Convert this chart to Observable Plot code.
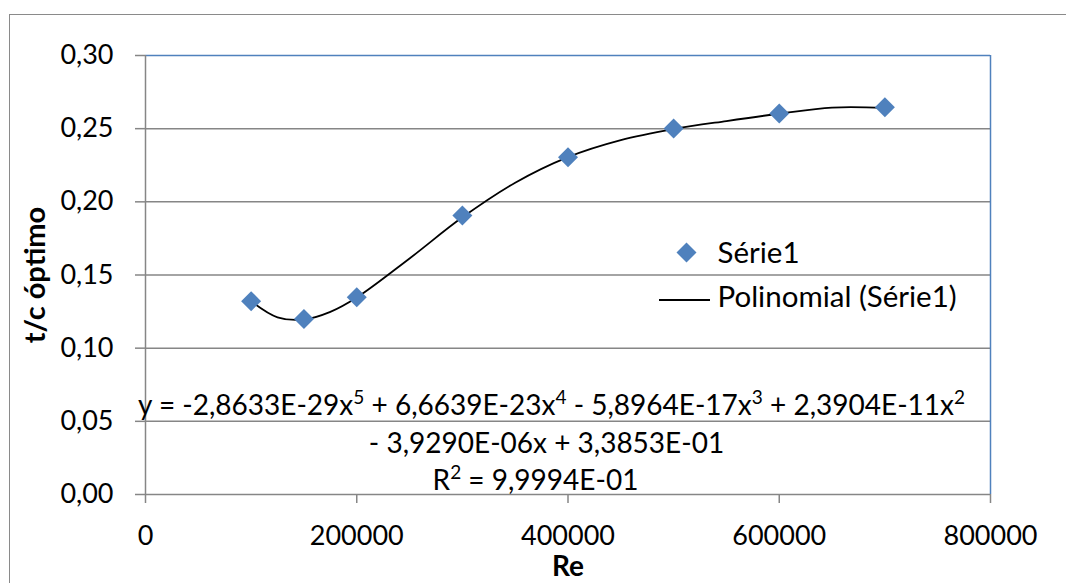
<!DOCTYPE html>
<html>
<head>
<meta charset="utf-8">
<script src="https://cdn.jsdelivr.net/npm/d3@7"></script>
<script src="https://cdn.jsdelivr.net/npm/@observablehq/plot@0.6"></script>
<style>
  html, body { margin: 0; padding: 0; background: #fff; overflow: hidden; }
  #wrap { position: relative; width: 1066px; height: 583px; }
  #frame { position: absolute; left: 9px; top: 14px; width: 1200px; height: 700px;
           border: 1.5px solid #8a8a8a; box-sizing: border-box; }
  #chart { position: absolute; left: 0; top: 0; }
</style>
</head>
<body>
<div id="wrap"><div id="frame"></div><div id="chart"></div></div>
<script>
// Scatter data (Série1)
const reValues = [100000, 150000, 200000, 300000, 400000, 500000, 600000, 700000];
const tcValues = [0.1321, 0.1200, 0.1348, 0.1907, 0.2305, 0.2501, 0.2604, 0.2647];

// Polynomial trendline (Polinomial (Série1))
const trendX = [100000, 125000, 150000, 175000, 200000, 250000, 300000, 350000, 400000, 450000, 500000, 550000, 600000, 650000, 700000];
const trendY = [0.1321, 0.1211, 0.1196, 0.1248, 0.1346, 0.1613, 0.1894, 0.2131, 0.2306, 0.2422, 0.2497, 0.2552, 0.2602, 0.2644, 0.2642];

// Axis ticks
const xTicks = [0, 200000, 400000, 600000, 800000];
const yTicks = [0, 0.05, 0.10, 0.15, 0.20, 0.25, 0.30];

// Texts
const xTitle = "Re";
const yTitle = "t/c óptimo";
const legendSeries = "Série1";
const legendTrend = "Polinomial (Série1)";
const equationLines = [
  "y = -2,8633E-29x⁵ + 6,6639E-23x⁴ - 5,8964E-17x³ + 2,3904E-11x²",
  "- 3,9290E-06x + 3,3853E-01",
  "R² = 9,9994E-01"
];

const points = reValues.map((x, i) => ({x, y: tcValues[i]}));
const trend = trendX.map((x, i) => ({x, y: trendY[i]}));

const blue = "#4F81BD";
const gray = "#868686";

const chart = Plot.plot({
  width: 1066,
  height: 583,
  marginLeft: 145,
  marginRight: 76,
  marginTop: 55,
  marginBottom: 89,
  style: {fontFamily: "Lato, sans-serif", fontSize: "27px", color: "#000", background: "transparent", overflow: "visible"},
  x: {domain: [0, 800000]},
  y: {domain: [0, 0.3]},
  marks: [
    Plot.gridY(yTicks.slice(1, -1), {stroke: gray, strokeOpacity: 1, strokeWidth: 1.5}),
    Plot.ruleY([0.3], {stroke: blue, strokeWidth: 1.5}),
    Plot.ruleX([800000], {stroke: blue, strokeWidth: 1.5}),
    Plot.ruleX([0], {stroke: gray, strokeWidth: 1.5}),
    Plot.ruleY([0], {stroke: gray, strokeWidth: 1.5}),
    Plot.axisX({ticks: xTicks, tickSize: 9, tickPadding: 22, stroke: gray, strokeWidth: 1.5, tickFormat: d => String(d), label: null}),
    Plot.axisY({ticks: yTicks, tickSize: 10, tickPadding: 22, stroke: gray, strokeWidth: 1.5, tickFormat: d => d.toFixed(2).replace(".", ","), label: null}),
    Plot.line(trend, {x: "x", y: "y", curve: "catmull-rom", stroke: "#000", strokeWidth: 1.8}),
    Plot.dot(points, {x: "x", y: "y", symbol: "diamond2", r: 9, fill: blue, stroke: "none"}),
    // axis titles
    Plot.text([yTitle], {frameAnchor: "left", dx: -110, rotate: -90, textAnchor: "middle", lineAnchor: "middle", fontWeight: "bold", fill: "#000", fontSize: 29}),
    Plot.text([xTitle], {frameAnchor: "bottom", dy: 81, textAnchor: "middle", lineAnchor: "bottom", fontWeight: "bold", fill: "#000", fontSize: 28}),
    // legend
    Plot.dot([legendSeries], {frameAnchor: "top-left", dx: 541, dy: 197, symbol: "diamond2", r: 9, fill: blue, stroke: "none"}),
    Plot.text([legendSeries], {frameAnchor: "top-left", dx: 572, dy: 207, textAnchor: "start", lineAnchor: "bottom", fill: "#000", fontSize: 29.5}),
    Plot.text([legendTrend], {frameAnchor: "top-left", dx: 572, dy: 251, textAnchor: "start", lineAnchor: "bottom", fill: "#000", fontSize: 29.5}),
    // equation
    Plot.text([equationLines[0]], {frameAnchor: "top-left", dx: 406, dy: 359, textAnchor: "middle", lineAnchor: "bottom", fill: "#000", fontSize: 28, className: "eq"}),
    Plot.text([equationLines[1]], {frameAnchor: "top-left", dx: 401, dy: 397, textAnchor: "middle", lineAnchor: "bottom", fill: "#000", fontSize: 28, className: "eq"}),
    Plot.text([equationLines[2]], {frameAnchor: "top-left", dx: 390, dy: 434, textAnchor: "middle", lineAnchor: "bottom", fill: "#000", fontSize: 28, className: "eq"})
  ]
});

const svg = d3.select(chart);

// render superscript characters as raised smaller digits
const supMap = {"⁵": "5", "⁴": "4", "³": "3", "²": "2"};
svg.selectAll("g.eq text").each(function() {
  const t = d3.select(this);
  const s = t.text();
  t.text(null);
  let buf = "";
  const flush = () => { if (buf) { t.append("tspan").text(buf); buf = ""; } };
  for (const ch of s) {
    if (supMap[ch]) {
      flush();
      t.append("tspan").attr("baseline-shift", "super").attr("font-size", "68%").text(supMap[ch]);
    } else buf += ch;
  }
  flush();
});

// legend line sample for the trendline
const legendLineY = 55 + 245;
svg.append("line").attr("x1", 659).attr("x2", 710).attr("y1", legendLineY).attr("y2", legendLineY)
  .attr("stroke", "#000").attr("stroke-width", 1.8);

document.getElementById("chart").appendChild(chart);
</script>
</body>
</html>
